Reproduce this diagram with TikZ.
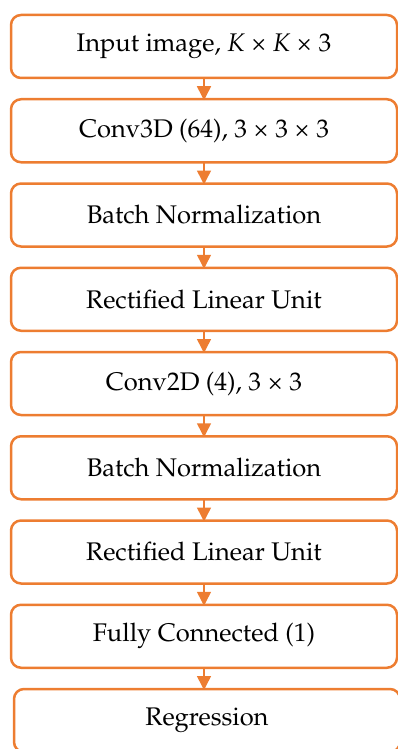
\documentclass[tikz,border=0pt]{standalone}
\usepackage[T1]{fontenc}
\usepackage{mathpazo}
\usetikzlibrary{positioning,arrows.meta}
\definecolor{boxorange}{HTML}{ED7D31}
\begin{document}
\begin{tikzpicture}[
    layerbox/.style={draw=boxorange, line width=2.5pt, rounded corners=10pt,
      minimum width=386pt, minimum height=63pt, outer sep=0pt,
      font=\fontsize{25.5}{30}\selectfont},
    flow/.style={draw=boxorange, line width=1.5pt,
      -{Triangle[width=14pt,length=14pt]}, shorten >=-1pt},
    node distance=21.25pt]

  \useasboundingbox (0,0) rectangle (398pt,-749pt);

  % Draw layers
  \node [layerbox] (input) at (204pt,-46.5pt) {Input image, \textit{K} \texttimes{} \textit{K} \texttimes{} 3};
  \node [layerbox, below=of input] (convthree) {Conv3D (64), 3 \texttimes{} 3 \texttimes{} 3};
  \node [layerbox, below=of convthree] (bnone) {Batch Normalization};
  \node [layerbox, below=of bnone] (reluone) {Rectified Linear Unit};
  \node [layerbox, below=of reluone] (convtwo) {Conv2D (4), 3 \texttimes{} 3};
  \node [layerbox, below=of convtwo] (bntwo) {Batch Normalization};
  \node [layerbox, below=of bntwo] (relutwo) {Rectified Linear Unit};
  \node [layerbox, below=of relutwo] (fc) {Fully Connected (1)};
  \node [layerbox, below=of fc, xshift=3pt] (regr) {Regression};

  % Draw arrows
  \foreach \a/\b in {input/convthree, convthree/bnone, bnone/reluone,
    reluone/convtwo, convtwo/bntwo, bntwo/relutwo, relutwo/fc}{%
    \draw [flow] (\a.south) -- (\b.north);
  }
  \draw [flow] (fc.south) -- (fc.south |- regr.north);

\end{tikzpicture}
\end{document}
